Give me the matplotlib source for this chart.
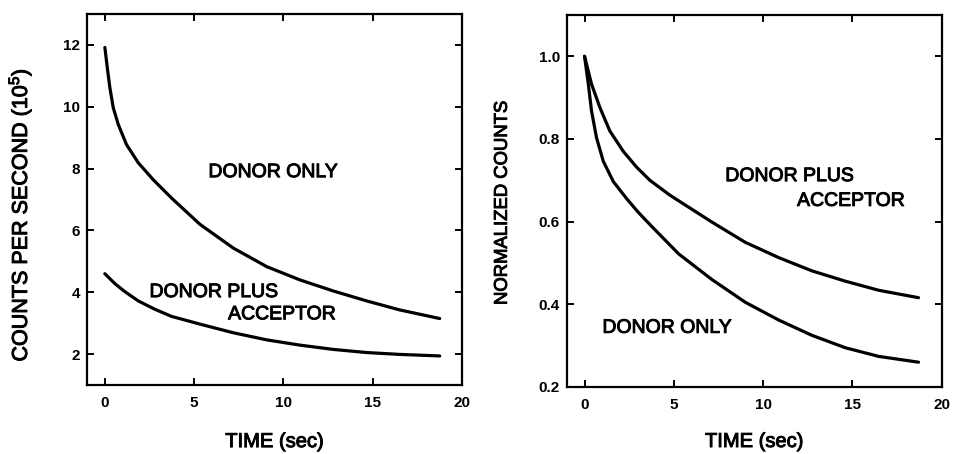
import matplotlib
matplotlib.use("Agg")
import matplotlib.pyplot as plt
import matplotlib.patheffects as pe

plt.rcParams['font.family'] = ['Liberation Sans', 'DejaVu Sans']
plt.rcParams['mathtext.fontset'] = 'custom'
plt.rcParams['mathtext.rm'] = 'Liberation Sans'
plt.rcParams['mathtext.default'] = 'regular'

# Fluorescence decay, raw counts (units of 10^5 counts/s)
t_donor = [0, 0.15, 0.28, 0.47, 0.75, 1.21, 1.87, 2.71, 3.73, 5.32, 7.19, 9.06, 10.92, 12.8, 14.66, 16.5, 18.75]
cps_donor = [11.92, 11.20, 10.62, 9.97, 9.43, 8.78, 8.19, 7.64, 7.05, 6.20, 5.43, 4.83, 4.40, 4.04, 3.72, 3.43, 3.15]

t_dpa = [0, 0.56, 1.12, 1.87, 2.8, 3.73, 5.32, 7.19, 9.06, 10.92, 12.8, 14.66, 16.5, 18.75]
cps_dpa = [4.60, 4.28, 4.02, 3.72, 3.45, 3.22, 2.97, 2.69, 2.46, 2.29, 2.15, 2.05, 1.99, 1.94]

# Same decays normalized to their initial value
t_norm_donor = [0, 0.21, 0.39, 0.67, 1.05, 1.61, 2.35, 3.0, 3.77, 5.27, 7.13, 9.0, 10.87, 12.73, 14.6, 16.47, 18.7]
norm_donor = [1.0, 0.933, 0.868, 0.803, 0.746, 0.697, 0.656, 0.623, 0.588, 0.522, 0.460, 0.405, 0.362, 0.325, 0.295, 0.274, 0.260]

t_norm_dpa = [0, 0.39, 0.86, 1.42, 2.17, 2.91, 3.66, 4.78, 7.13, 9.0, 10.87, 12.73, 14.6, 16.47, 18.7]
norm_dpa = [1.0, 0.933, 0.876, 0.819, 0.770, 0.732, 0.700, 0.664, 0.599, 0.550, 0.513, 0.481, 0.456, 0.434, 0.416]

x_ticks = [0, 5, 10, 15, 20]
left_yticks = [2, 4, 6, 8, 10, 12]
right_yticks = [0.2, 0.4, 0.6, 0.8, 1.0]

fig = plt.figure(figsize=(9.55, 4.54), dpi=100)
ax1 = fig.add_axes([0.0911, 0.152, 0.3927, 0.817])
ax2 = fig.add_axes([0.5934, 0.1476, 0.3927, 0.8194])

# slightly heavier strokes for the lettering
heavy = [pe.withStroke(linewidth=0.7, foreground='black')]

line_kw = dict(color='black', lw=2.3, solid_capstyle='round', solid_joinstyle='round')
label_kw = dict(fontsize=14, color='black', path_effects=heavy)

def style(ax, xlab_y):
    for s in ax.spines.values():
        s.set_linewidth(1.6)
    ax.tick_params(direction='in', length=5, width=1.4, top=True, right=True,
                   labelsize=11)
    ax.tick_params(axis='y', pad=5)
    ax.tick_params(axis='x', pad=8)
    for lab in ax.get_xticklabels() + ax.get_yticklabels():
        lab.set_fontweight('bold')
    ax.set_xlabel('TIME (sec)', fontsize=14.5, path_effects=heavy)
    ax.xaxis.set_label_coords(0.5, xlab_y)

# Left panel
ax1.plot(t_donor, cps_donor, **line_kw)
ax1.plot(t_dpa, cps_dpa, **line_kw)
ax1.set_xlim(-1, 20)
ax1.set_ylim(1, 13)
ax1.set_xticks(x_ticks)
ax1.set_yticks(left_yticks)
ax1.set_ylabel('COUNTS PER SECOND (10$^{5}$)', fontsize=15.5, path_effects=heavy)
ax1.yaxis.set_label_coords(-0.141, 0.458)
ax1.text(5.8, 7.87, 'DONOR ONLY', va='center', ha='left', **label_kw)
ax1.text(2.5, 3.99, 'DONOR PLUS', va='center', ha='left', **label_kw)
ax1.text(6.9, 3.27, 'ACCEPTOR', va='center', ha='left', **label_kw)
style(ax1, -0.127)

# Right panel
ax2.plot(t_norm_donor, norm_donor, **line_kw)
ax2.plot(t_norm_dpa, norm_dpa, **line_kw)
ax2.set_xlim(-1, 20)
ax2.set_ylim(0.2, 1.1)
ax2.set_xticks(x_ticks)
ax2.set_yticks(right_yticks)
ax2.set_yticklabels([f'{v:.1f}' for v in right_yticks])
ax2.set_ylabel('NORMALIZED COUNTS', fontsize=13.3, path_effects=heavy)
ax2.yaxis.set_label_coords(-0.149, 0.495)
ax2.text(7.88, 0.709, 'DONOR PLUS', va='center', ha='left', **label_kw)
ax2.text(11.9, 0.649, 'ACCEPTOR', va='center', ha='left', **label_kw)
ax2.text(1.0, 0.342, 'DONOR ONLY', va='center', ha='left', **label_kw)
style(ax2, -0.121)

fig.savefig('out.png', dpi=100, facecolor='white')
